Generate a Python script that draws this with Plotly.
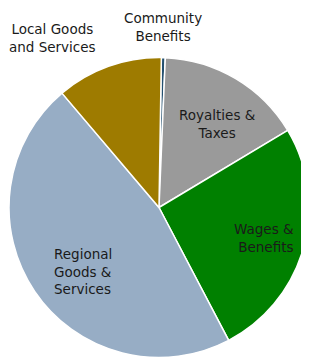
import plotly.graph_objects as go

categories = ["Community Benefits", "Royalties & Taxes", "Wages & Benefits",
              "Regional Goods & Services", "Local Goods and Services"]
values = [0.42, 15.75, 25.9, 46.5, 11.45]
colors = ["#24506F", "#9A9A9A", "#008000", "#97ADC5", "#9E7B00"]

label_text = ["Community<br>Benefits", "Royalties &<br>Taxes", "Wages &<br>Benefits",
              "Regional<br>Goods &<br>Services", "Local Goods<br>and Services"]
# (x, y, anchor) in page pixels of the reference
label_pos = [(163, 27, "center"), (217, 124, "center"), (296, 238, "right"),
             (52, 271, "left"), (52, 38, "center")]

OFF = 8  # default body margin of the page
W, H = 309 - OFF, 360 - OFF

fig = go.Figure(go.Pie(
    labels=categories,
    values=values,
    sort=False,
    direction="clockwise",
    rotation=0.9,
    marker=dict(colors=colors, line=dict(color="white", width=1.5)),
    textinfo="none",
    hoverinfo="label+percent",
    domain=dict(x=[1 / W, 1.0], y=[2 / H, 303 / H]),
    showlegend=False,
))

annotations = []
for txt, (px, py, al) in zip(label_text, label_pos):
    annotations.append(dict(
        text=txt, x=(px - OFF) / W, y=1 - (py - OFF) / H, xref="paper", yref="paper",
        showarrow=False, align=al, xanchor=al, yanchor="middle",
        font=dict(family="DejaVu Sans", size=13.5, color="#1a1a1a"),
    ))

fig.update_layout(
    width=W, height=H,
    margin=dict(l=0, r=0, t=0, b=0),
    paper_bgcolor="white",
    plot_bgcolor="white",
    annotations=annotations,
)

fig.write_html("out.html")
